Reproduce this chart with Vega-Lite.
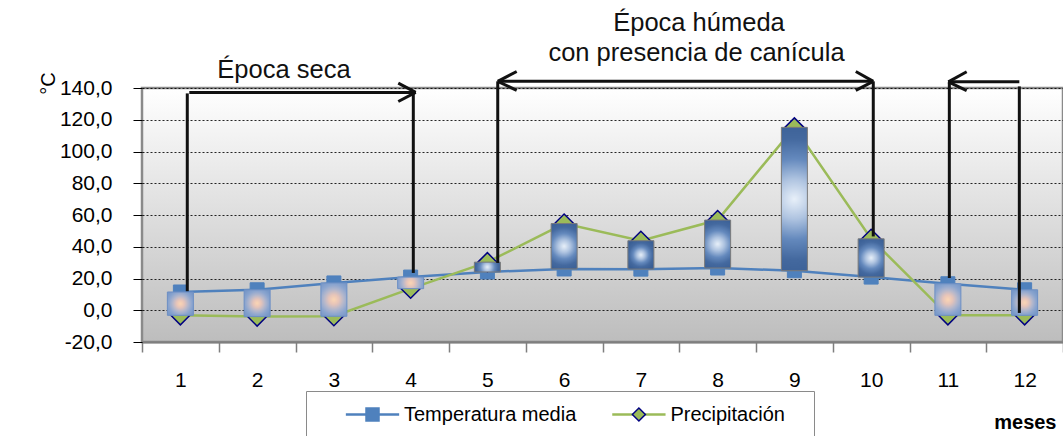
{
  "$schema": "https://vega.github.io/schema/vega-lite/v6.json",
  "autosize": {"type": "none"},
  "padding": {"left": 142, "top": 88, "right": 0, "bottom": 94},
  "width": 921,
  "height": 254,
  "background": "#ffffff",
  "config": {
    "font": "Liberation Sans",
    "view": {
      "stroke": "#8a8a8a",
      "strokeWidth": 2.5,
      "fill": {
        "gradient": "linear", "x1": 0, "y1": 0, "x2": 0, "y2": 1,
        "stops": [{"offset": 0, "color": "#ffffff"}, {"offset": 1, "color": "#bdbdbd"}]
      }
    }
  },
  "data": {
    "values": [
      {"mes": 1, "Temperatura media": 11.5, "Precipitación": -3.2},
      {"mes": 2, "Temperatura media": 12.9, "Precipitación": -4.0},
      {"mes": 3, "Temperatura media": 17.2, "Precipitación": -3.8},
      {"mes": 4, "Temperatura media": 20.9, "Precipitación": 13.6},
      {"mes": 5, "Temperatura media": 24.1, "Precipitación": 30.3},
      {"mes": 6, "Temperatura media": 26.0, "Precipitación": 54.6},
      {"mes": 7, "Temperatura media": 25.9, "Precipitación": 43.8},
      {"mes": 8, "Temperatura media": 26.6, "Precipitación": 56.8},
      {"mes": 9, "Temperatura media": 24.9, "Precipitación": 115.2},
      {"mes": 10, "Temperatura media": 20.9, "Precipitación": 45.0},
      {"mes": 11, "Temperatura media": 16.7, "Precipitación": -3.2},
      {"mes": 12, "Temperatura media": 12.9, "Precipitación": -3.2}
    ]
  },
  "layer": [
    {
      "transform": [{"fold": ["Temperatura media", "Precipitación"], "as": ["serie", "valor"]}],
      "mark": {"type": "line", "strokeWidth": 2.5},
      "encoding": {
        "x": {
          "field": "mes", "type": "quantitative",
          "scale": {"domain": [0.5, 12.5], "nice": false, "zero": false, "padding": 0},
          "axis": {
            "values": [0.5, 1, 1.5, 2, 2.5, 3, 3.5, 4, 4.5, 5, 5.5, 6, 6.5, 7, 7.5, 8, 8.5, 9, 9.5, 10, 10.5, 11, 11.5, 12, 12.5],
            "tickCount": 100,
            "labelExpr": "datum.value % 1 === 0 ? format(datum.value, 'd') : ''",
            "tickOpacity": {"condition": {"test": "datum.value % 1 === 0", "value": 0}, "value": 1},
            "tickSize": 10, "tickColor": "#7f7f7f", "tickWidth": 1.5,
            "domain": true, "domainColor": "#7f7f7f", "domainWidth": 2,
            "grid": false,
            "labelFontSize": 21, "labelColor": "#000000", "labelPadding": 17,
            "labelFlush": false, "labelOverlap": false,
            "title": "meses", "titleFontWeight": "bold", "titleFontSize": 20, "titleColor": "#000000",
            "titleX": 914, "titleY": 86, "titleAlign": "right", "titleAnchor": "end", "titleBaseline": "alphabetic"
          }
        },
        "y": {
          "field": "valor", "type": "quantitative",
          "scale": {"domain": [-20, 140], "nice": false, "zero": false, "padding": 0},
          "axis": {
            "values": [-20, 0, 20, 40, 60, 80, 100, 120, 140],
            "tickCount": 100,
            "labelExpr": "replace(replace(format(datum.value, '.1f'), '.', ','), '\u2212', '-')",
            "labelFontSize": 21, "labelColor": "#000000", "labelPadding": 21, "labelOverlap": false,
            "tickSize": 9, "tickColor": "#000000", "tickWidth": 1,
            "domain": false,
            "grid": true, "gridColor": "#000000", "gridDash": [2, 2], "gridWidth": 1, "gridOpacity": 0.85,
            "title": "°C", "titleAngle": 270, "titleX": -93.5, "titleY": -5,
            "titleAlign": "center", "titleBaseline": "middle",
            "titleFontSize": 20, "titleFontWeight": "normal", "titleColor": "#000000"
          }
        },
        "color": {
          "field": "serie", "type": "nominal",
          "sort": ["Temperatura media", "Precipitación"],
          "scale": {"range": ["#4F81BD", "#9BBB59"]},
          "legend": {
            "orient": "none", "legendX": 164, "legendY": 303, "direction": "horizontal",
            "title": "—", "titleOpacity": 0, "titleOrient": "right", "titleFontSize": 12, "titlePadding": 4,
            "symbolType": "M-4.1,0H4.1", "symbolSize": 169, "symbolStrokeWidth": 2.5,
            "symbolOffset": 43, "labelOffset": 21.5,
            "labelFontSize": 20, "labelColor": "#000000", "labelLimit": 400,
            "columnPadding": 9.4, "padding": 13.5, "strokeColor": "#8a8a8a"
          }
        }
      }
    },
    {
      "transform": [
        {"fold": ["Temperatura media", "Precipitación"], "as": ["serie_p", "valor_p"]},
        {"filter": "datum.serie_p === 'Temperatura media'"}
      ],
      "mark": {"type": "point", "filled": true, "size": 196, "strokeWidth": 1, "opacity": 1},
      "encoding": {
        "x": {"field": "mes", "type": "quantitative", "scale": {"domain": [0.5, 12.5], "nice": false, "zero": false, "padding": 0}},
        "y": {"field": "valor_p", "type": "quantitative", "scale": {"domain": [-20, 140], "nice": false, "zero": false, "padding": 0}},
        "fill": {
          "field": "serie_p", "type": "nominal",
          "scale": {"domain": ["Temperatura media", "Precipitación"], "range": ["#4F81BD", "#9BBB59"]},
          "legend": {
            "orient": "none", "legendX": 164, "legendY": 303, "direction": "horizontal", "title": null,
            "symbolSize": 169, "symbolStrokeWidth": 1.5, "symbolOffset": 43, "labelOffset": 21.5,
            "symbolFillColor": "#9BBB59", "symbolStrokeColor": "#000080",
            "labelFontSize": 20, "labelOpacity": 0, "labelLimit": 400,
            "columnPadding": 9.4, "padding": 13.5, "symbolOpacity": 1
          }
        },
        "stroke": {
          "field": "serie_p", "type": "nominal",
          "scale": {"domain": ["Temperatura media", "Precipitación"], "range": ["#4F81BD", "#000080"]},
          "legend": {
            "orient": "none", "legendX": 164, "legendY": 303, "direction": "horizontal", "title": null,
            "symbolSize": 169, "symbolStrokeWidth": 1.5, "symbolOffset": 43, "labelOffset": 21.5,
            "symbolFillColor": "#9BBB59", "symbolStrokeColor": "#000080",
            "labelFontSize": 20, "labelOpacity": 0, "labelLimit": 400,
            "columnPadding": 9.4, "padding": 13.5, "symbolOpacity": 1
          }
        },
        "shape": {
          "field": "serie_p", "type": "nominal",
          "scale": {"domain": ["Temperatura media", "Precipitación"], "range": ["square", "diamond"]},
          "legend": {
            "orient": "none", "legendX": 164, "legendY": 303, "direction": "horizontal", "title": null,
            "symbolSize": 169, "symbolStrokeWidth": 1.5, "symbolOffset": 43, "labelOffset": 21.5,
            "symbolFillColor": "#9BBB59", "symbolStrokeColor": "#000080",
            "labelFontSize": 20, "labelOpacity": 0, "labelLimit": 400,
            "columnPadding": 9.4, "padding": 13.5, "symbolOpacity": 1
          }
        }
      }
    },
    {
      "transform": [
        {"fold": ["Temperatura media", "Precipitación"], "as": ["serie_p", "valor_p"]},
        {"filter": "datum.serie_p === 'Precipitación'"}
      ],
      "mark": {"type": "point", "filled": true, "size": 361, "strokeWidth": 1.5, "opacity": 1},
      "encoding": {
        "x": {"field": "mes", "type": "quantitative", "scale": {"domain": [0.5, 12.5], "nice": false, "zero": false, "padding": 0}},
        "y": {"field": "valor_p", "type": "quantitative", "scale": {"domain": [-20, 140], "nice": false, "zero": false, "padding": 0}},
        "fill": {"field": "serie_p", "type": "nominal", "scale": {"domain": ["Temperatura media", "Precipitación"], "range": ["#4F81BD", "#9BBB59"]}},
        "stroke": {"field": "serie_p", "type": "nominal", "scale": {"domain": ["Temperatura media", "Precipitación"], "range": ["#4F81BD", "#000080"]}},
        "shape": {"field": "serie_p", "type": "nominal", "scale": {"domain": ["Temperatura media", "Precipitación"], "range": ["square", "diamond"]}}
      }
    },
    {
      "transform": [{"filter": "datum['Precipitación'] > datum['Temperatura media']"}],
      "mark": {
        "type": "bar", "size": 26, "stroke": "#7a7a7a", "strokeWidth": 1,
        "fill": {
          "gradient": "radial", "x1": 0.5, "y1": 0.5, "r1": 0, "x2": 0.5, "y2": 0.5, "r2": 0.56,
          "stops": [
            {"offset": 0, "color": "#e8f0f9"},
            {"offset": 0.25, "color": "#aec3e0"},
            {"offset": 0.5, "color": "#6489bd"},
            {"offset": 0.75, "color": "#44699f"},
            {"offset": 1, "color": "#3a5f95"}
          ]
        }
      },
      "encoding": {
        "x": {"field": "mes", "type": "quantitative", "scale": {"domain": [0.5, 12.5], "nice": false, "zero": false, "padding": 0}},
        "y": {"field": "Temperatura media", "type": "quantitative", "scale": {"domain": [-20, 140], "nice": false, "zero": false, "padding": 0}},
        "y2": {"field": "Precipitación"}
      }
    },
    {
      "transform": [{"filter": "datum['Precipitación'] <= datum['Temperatura media']"}],
      "mark": {
        "type": "bar", "size": 26, "stroke": "#6d8fc4", "strokeWidth": 1,
        "fill": {
          "gradient": "radial", "x1": 0.5, "y1": 0.5, "r1": 0, "x2": 0.5, "y2": 0.5, "r2": 0.6,
          "stops": [
            {"offset": 0, "color": "#fbd6b4"},
            {"offset": 0.25, "color": "#e6c4b9"},
            {"offset": 0.5, "color": "#b3b7cc"},
            {"offset": 0.75, "color": "#8ba5cf"},
            {"offset": 1, "color": "#7898c8"}
          ]
        }
      },
      "encoding": {
        "x": {"field": "mes", "type": "quantitative", "scale": {"domain": [0.5, 12.5], "nice": false, "zero": false, "padding": 0}},
        "y": {"field": "Temperatura media", "type": "quantitative", "scale": {"domain": [-20, 140], "nice": false, "zero": false, "padding": 0}},
        "y2": {"field": "Precipitación"}
      }
    },
    {
      "data": {
        "values": [
          {"x0": 1.09, "y0": 136.6, "x1": 1.09, "y1": 12.0},
          {"x0": 1.116, "y0": 137.2, "x1": 4.066, "y1": 137.2},
          {"x0": 4.066, "y0": 137.2, "x1": 3.839, "y1": 143.1},
          {"x0": 4.066, "y0": 137.2, "x1": 3.839, "y1": 131.5},
          {"x0": 4.035, "y0": 137.2, "x1": 4.035, "y1": 23.5},
          {"x0": 5.135, "y0": 144.2, "x1": 10.028, "y1": 144.2},
          {"x0": 5.135, "y0": 144.2, "x1": 5.382, "y1": 150.4},
          {"x0": 5.135, "y0": 144.2, "x1": 5.382, "y1": 138.5},
          {"x0": 10.028, "y0": 144.2, "x1": 9.8, "y1": 150.4},
          {"x0": 10.028, "y0": 144.2, "x1": 9.8, "y1": 138.5},
          {"x0": 5.135, "y0": 144.2, "x1": 5.135, "y1": 29.8},
          {"x0": 10.028, "y0": 144.2, "x1": 10.028, "y1": 46.5},
          {"x0": 11.006, "y0": 143.9, "x1": 11.931, "y1": 143.9},
          {"x0": 11.006, "y0": 143.9, "x1": 11.245, "y1": 150.2},
          {"x0": 11.006, "y0": 143.9, "x1": 11.245, "y1": 138.3},
          {"x0": 11.019, "y0": 143.9, "x1": 11.019, "y1": 20.3},
          {"x0": 11.931, "y0": 141.0, "x1": 11.931, "y1": -1.7}
        ]
      },
      "mark": {"type": "rule", "strokeWidth": 3, "color": "#111111"},
      "encoding": {
        "x": {"field": "x0", "type": "quantitative", "scale": {"domain": [0.5, 12.5], "nice": false, "zero": false, "padding": 0}},
        "x2": {"field": "x1"},
        "y": {"field": "y0", "type": "quantitative", "scale": {"domain": [-20, 140], "nice": false, "zero": false, "padding": 0}},
        "y2": {"field": "y1"}
      }
    },
    {
      "data": {
        "values": [
          {"tx": 2.35, "ty": 146.3, "etiqueta": "Época seca"},
          {"tx": 7.757, "ty": 175.6, "etiqueta": "Época húmeda"},
          {"tx": 7.725, "ty": 156.8, "etiqueta": "con presencia de canícula"}
        ]
      },
      "mark": {"type": "text", "fontSize": 25.5, "align": "center", "baseline": "alphabetic", "color": "#111111"},
      "encoding": {
        "x": {"field": "tx", "type": "quantitative", "scale": {"domain": [0.5, 12.5], "nice": false, "zero": false, "padding": 0}},
        "y": {"field": "ty", "type": "quantitative", "scale": {"domain": [-20, 140], "nice": false, "zero": false, "padding": 0}},
        "text": {"field": "etiqueta", "type": "nominal"}
      }
    }
  ]
}
